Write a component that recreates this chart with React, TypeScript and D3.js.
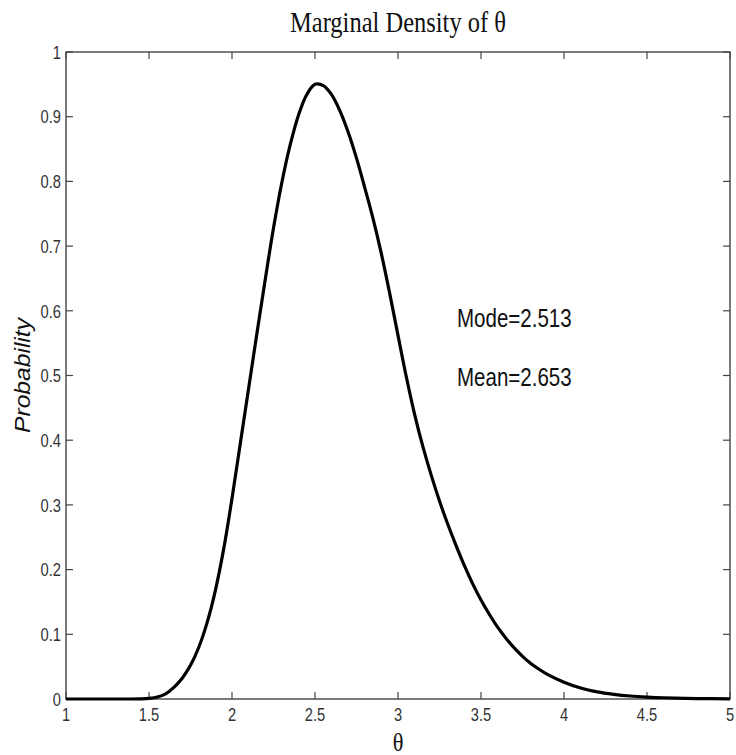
import React from "react";
import * as d3 from "d3";

const thetaValues = [1.0, 1.3, 1.45, 1.5, 1.55, 1.6, 1.65, 1.7, 1.75, 1.8, 1.85, 1.9, 1.95, 2.0, 2.05, 2.1, 2.15, 2.2, 2.25, 2.3, 2.35, 2.4, 2.45, 2.5, 2.55, 2.6, 2.65, 2.7, 2.75, 2.8, 2.85, 2.9, 2.95, 3.0, 3.05, 3.1, 3.15, 3.2, 3.25, 3.3, 3.35, 3.4, 3.45, 3.5, 3.55, 3.6, 3.65, 3.7, 3.75, 3.8, 3.85, 3.9, 4.0, 4.1, 4.2, 4.3, 4.4, 4.5, 4.6, 4.8, 5.0];
const densityValues = [0, 0, 0.0003, 0.001, 0.003, 0.008, 0.018, 0.032, 0.052, 0.08, 0.118, 0.168, 0.232, 0.31, 0.395, 0.48, 0.565, 0.648, 0.728, 0.798, 0.856, 0.902, 0.934, 0.95, 0.948, 0.934, 0.909, 0.876, 0.836, 0.79, 0.742, 0.688, 0.627, 0.562, 0.498, 0.44, 0.39, 0.346, 0.306, 0.27, 0.237, 0.206, 0.178, 0.153, 0.131, 0.111, 0.094, 0.079, 0.066, 0.055, 0.046, 0.038, 0.026, 0.017, 0.011, 0.0072, 0.0046, 0.003, 0.0019, 0.0007, 0.0002];
const xTicks = [1, 1.5, 2, 2.5, 3, 3.5, 4, 4.5, 5];
const yTicks = [0, 0.1, 0.2, 0.3, 0.4, 0.5, 0.6, 0.7, 0.8, 0.9, 1];
const titleText = "Marginal Density of θ";
const xLabel = "θ";
const yLabel = "Probability";
const annotations = ["Mode=2.513", "Mean=2.653"];

export default function App() {
  const W = 736, H = 755;
  const left = 66, right = 730, top = 52, bottom = 699;
  const x = d3.scaleLinear().domain([1, 5]).range([left, right]);
  const y = d3.scaleLinear().domain([0, 1]).range([bottom, top]);
  const pts = thetaValues.map((t, i) => [t, densityValues[i]] as [number, number]);
  const line = d3.line<[number, number]>().x(d => x(d[0])).y(d => y(d[1])).curve(d3.curveCatmullRom.alpha(0.5));
  const tickLen = 7;
  const axisColor = "#444";
  const sans = "'Liberation Sans', Arial, Helvetica, sans-serif";
  const serif = "'Liberation Serif', 'Times New Roman', serif";
  const sx = 0.79;
  return (
    <svg width={W} height={H} style={{ position: "absolute", left: 0, top: 0, background: "#fff" }}>
      <rect x={0} y={0} width={W} height={H} fill="#fff" />
      <g transform={`translate(${(left + right) / 2},32) scale(0.86,1)`}>
        <text textAnchor="middle" fontFamily={serif} fontSize={28.5} fill="#111">{titleText}</text>
      </g>
      {xTicks.map(t => (
        <g key={"xt" + t}>
          <line x1={x(t)} x2={x(t)} y1={bottom} y2={bottom - tickLen} stroke={axisColor} strokeWidth={1.2} />
          <line x1={x(t)} x2={x(t)} y1={top} y2={top + tickLen} stroke={axisColor} strokeWidth={1.2} />
          <g transform={`translate(${x(t)},721) scale(${sx},1)`}>
            <text textAnchor="middle" fontFamily={sans} fontSize={18.6} fill="#333">{String(t)}</text>
          </g>
        </g>
      ))}
      {yTicks.map(t => (
        <g key={"yt" + t}>
          <line x1={left} x2={left + tickLen} y1={y(t)} y2={y(t)} stroke={axisColor} strokeWidth={1.2} />
          <line x1={right} x2={right - tickLen} y1={y(t)} y2={y(t)} stroke={axisColor} strokeWidth={1.2} />
          <g transform={`translate(61,${y(t) + 6.7}) scale(${sx},1)`}>
            <text textAnchor="end" fontFamily={sans} fontSize={18.6} fill="#333">{String(t)}</text>
          </g>
        </g>
      ))}
      <rect x={left} y={top} width={right - left} height={bottom - top} fill="none" stroke={axisColor} strokeWidth={1.4} />
      <path d={line(pts) || ""} fill="none" stroke="#000" strokeWidth={3.2} strokeLinejoin="round" />
      {annotations.map((a, i) => (
        <g key={a} transform={`translate(457,${327 + i * 59}) scale(${sx},1)`}>
          <text fontFamily={sans} fontSize={26} fill="#111">{a}</text>
        </g>
      ))}
      <g transform={`translate(${(left + right) / 2},751) scale(0.86,1)`}>
        <text textAnchor="middle" fontFamily={serif} fontSize={26} fill="#111">{xLabel}</text>
      </g>
      <g transform={`translate(30,${(top + bottom) / 2}) rotate(-90) scale(1.12,1)`}>
        <text textAnchor="middle" fontFamily={sans} fontStyle="italic" fontSize={22} fill="#111">{yLabel}</text>
      </g>
    </svg>
  );
}
